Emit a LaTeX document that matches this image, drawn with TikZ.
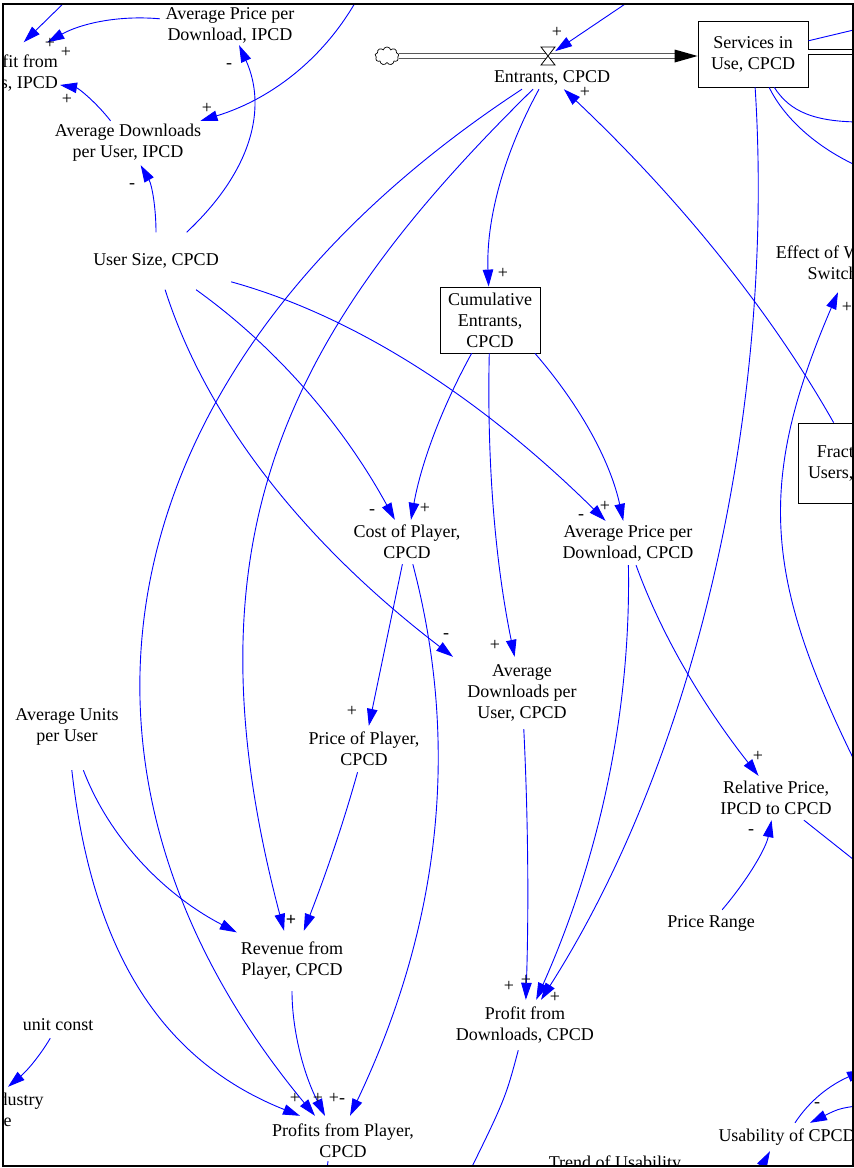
\documentclass[tikz,border=0pt]{standalone}
\usepackage{fontspec}
\setmainfont{Liberation Serif}
\usetikzlibrary{arrows.meta,shapes.symbols,calc}
\newcommand{\vfnt}{\fontsize{18}{21}\selectfont}
\newcommand{\pfnt}{\fontsize{18}{18}\selectfont}
\begin{document}
\begin{tikzpicture}[x=1pt,y=-1pt,
 var/.style={align=center,font=\vfnt,inner sep=2pt},
 stock/.style={var,draw=black,line width=0.8pt},
 link/.style={draw=blue,line width=0.9pt,-{Triangle[length=17pt,width=10.5pt]}},
 plain/.style={draw=blue,line width=0.9pt},
 pol/.style={font=\pfnt,inner sep=0pt},
 pipe/.style={draw=black,double=white,double distance=3.8pt,line width=0.8pt}]
\useasboundingbox (0,0) rectangle (854,1168);
\begin{scope}
\clip (3,4) rectangle (853,1166);
% variables
\node[var, anchor=east, align=right, minimum height=62pt] (pfdi) at (60,73.5) {Profit from\\Downloads, IPCD};
\node[var, minimum width=140pt, minimum height=40pt] (apdi) at (230,25) {Average Price per\\Download, IPCD};
\node[var, minimum width=150pt, minimum height=44pt] (adui) at (128,143) {Average Downloads\\per User, IPCD};
\node[var, minimum width=150pt, minimum height=57pt] (usize) at (156,261) {User Size, CPCD};
\node[cloud, cloud puffs=9, draw, line width=0.7pt, minimum width=24pt, minimum height=18pt, inner sep=0pt] (srccl) at (387,56) {};
\node[minimum width=14pt, minimum height=18pt, inner sep=0pt] (valve) at (548,56) {};
\node[var, minimum width=124pt, minimum height=22pt] (entr) at (552,78) {Entrants, CPCD};
\node[stock, minimum width=110pt, minimum height=66pt] (siu) at (753,54) {Services in\\Use, CPCD};
\node[stock, minimum width=100pt, minimum height=66pt] (cum) at (490,320) {Cumulative\\Entrants,\\CPCD};
\node[var, minimum width=116pt, minimum height=44pt] (cost) at (407,542) {Cost of Player,\\CPCD};
\node[var, minimum width=140pt, minimum height=44pt] (apdc) at (628,543) {Average Price per\\Download, CPCD};
\node[var, minimum width=140pt, minimum height=72pt] (aduc) at (522,693) {Average\\Downloads per\\User, CPCD};
\node[var, minimum width=120pt, minimum height=46pt] (pop) at (364,749) {Price of Player,\\CPCD};
\node[var, minimum width=104pt, minimum height=86pt] (aupu) at (67,727) {Average Units\\per User};
\node[var, minimum width=118pt, minimum height=44pt] (rel) at (776,798) {Relative Price,\\IPCD to CPCD};
\node[var, minimum width=90pt, minimum height=26pt] (prange) at (711,923) {Price Range};
\node[var, minimum width=110pt, minimum height=60pt] (rev) at (292,961) {Revenue from\\Player, CPCD};
\node[var, minimum width=150pt, minimum height=50pt] (pfdc) at (525,1025) {Profit from\\Downloads, CPCD};
\node[var, minimum width=80pt, minimum height=26pt] (unitc) at (58,1025) {unit const};
\node[var, minimum height=46pt] (ind) at (-7,1110) {Total Industry\\Price};
\node[var, minimum width=155pt, minimum height=50pt] (pfp) at (343,1141) {Profits from Player,\\CPCD};
\node[var, minimum width=140pt, minimum height=28pt] (usab) at (787,1137) {Usability of CPCD};
\node[var, anchor=base] (trend) at (615,1168) {Trend of Usability};
\node[var, minimum width=130pt, minimum height=54pt] (effect) at (844,265) {Effect of WOM on\\Switching};
\node[stock, minimum width=117pt, minimum height=80pt] (fract) at (856.5,463) {Fraction of\\Users, CPCD};
% free ends
\coordinate (tl) at (71,-4);
\coordinate (tm) at (360,-6);
\coordinate (tv) at (637,-4);
\coordinate (rs1) at (862,28);
\coordinate (rp) at (870,52);
\coordinate (rc1) at (862,122);
\coordinate (rc2) at (862,168);
\coordinate (reff) at (866,784);
\coordinate (rrel) at (873,875);
\coordinate (bpfd) at (458,1195);
\coordinate (bpfp) at (325,1185);
\coordinate (busab) at (753,1182);
\coordinate (rusab) at (872,1104);
\coordinate (rusab2) at (864,1070);
% flow pipe
\draw[pipe, shorten >=22pt] (srccl.east) -- (siu.west |- srccl);
\fill[black] (siu.west |- srccl) -- ++(-23,-6.5) -- ++(0,13) -- cycle;
\draw[pipe] (siu.east |- rp) -- (rp);
\draw[fill=white, line width=0.8pt] ($(valve)+(-7,-9)$) -- ($(valve)+(7,-9)$) -- ($(valve)+(-7,9)$) -- ($(valve)+(7,9)$) -- cycle;
% connectors
\draw[link] (usize) .. controls (156,208) and (152,185) .. (adui);
\draw[link] (usize) .. controls (253,170) and (267,107) .. (apdi);
\draw[link] (adui) .. controls (95,101) and (78,88) .. (pfdi);
\draw[link] (apdi) .. controls (117,15) and (80,24) .. (pfdi);
\draw[link] (tl) -- (pfdi);
\draw[link] (tm) .. controls (328,54) and (275,98) .. (adui);
\draw[link] (tv) -- (valve);
\draw[link] (fract) .. controls (771,312) and (681,200) .. (entr);
\draw[link] ([xshift=-13pt]entr.south) .. controls (503,155) and (486,221) .. (cum);
\draw[link] ([xshift=-19pt]entr.south) .. controls (285,333) and (181,540) .. (rev);
\draw[link] ([xshift=-30pt]entr.south) .. controls (104,363) and (25,766) .. ([xshift=-28pt]pfp.north);
\draw[link] (usize) .. controls (276,347) and (343,425) .. (cost);
\draw[link] (usize) .. controls (351,315) and (477,394) .. (apdc);
\draw[link] (usize) .. controls (206,418) and (303,542) .. ([xshift=-69pt]aduc.north);
\draw[link] (cum) .. controls (441,409) and (421,464) .. (cost);
\draw[link] (cum) .. controls (487,456) and (494,556) .. (aduc);
\draw[link] ([xshift=45pt]cum.south) .. controls (583,409) and (611,464) .. (apdc);
\draw[link] (cost) -- (pop);
\draw[link] (cost) .. controls (463,755) and (436,935) .. ([xshift=7pt]pfp.north);
\draw[link] (pop) .. controls (344,821) and (326,874) .. (rev);
\draw[link] (aupu) .. controls (108,835) and (161,893) .. (rev);
\draw[link] (aupu) .. controls (92,950) and (160,1060) .. ([xshift=-43pt]pfp.north);
\draw[link] (rev) .. controls (292,1029) and (303,1073) .. ([xshift=-18pt]pfp.north);
\draw[link] (aduc) .. controls (528,815) and (529,907) .. (pfdc);
\draw[link] (apdc) .. controls (631,708) and (601,854) .. (pfdc);
\draw[link] (apdc) .. controls (661,634) and (702,704) .. (rel);
\draw[link] (siu) .. controls (775,400) and (700,750) .. (pfdc);
\draw[plain] (siu) -- (rs1);
\draw[plain] (siu) .. controls (790,112) and (815,122) .. (rc1);
\draw[plain] (siu) .. controls (785,120) and (820,150) .. (rc2);
\draw[link] (reff) .. controls (767,588) and (752,492) .. ([xshift=-6pt]effect.south);
\draw[link] (prange) .. controls (749,878) and (766,848) .. (rel);
\draw[plain] (rel) -- (rrel);
\draw[link] (unitc) .. controls (41,1054) and (28,1070) .. ([xshift=15pt]ind.north);
\draw[plain] (pfdc) .. controls (505,1100) .. (bpfd);
\draw[plain] ([xshift=-15pt,yshift=5pt]pfp.south) -- (bpfp);
\draw[link] (busab) -- ([xshift=-17pt]usab.south);
\draw[link] (rusab) .. controls (840,1108) .. ([xshift=23pt]usab.north);
\draw[link] ([xshift=8pt]usab.north) .. controls (810,1100) and (830,1085) .. (rusab2);
% polarities
\node[pol] (q1) at (50,43) {+};
\node[pol] (q2) at (66,52) {+};
\node[pol] (q3) at (67,99) {+};
\node[pol] (q4) at (229,66) {-};
\node[pol] (q5) at (207,108) {+};
\node[pol] (q6) at (132,186) {-};
\node[pol] (q7) at (557,32) {+};
\node[pol] (q8) at (585,92) {+};
\node[pol] (q9) at (503,273) {+};
\node[pol] (q10) at (372,512) {-};
\node[pol] (q11) at (425,508) {+};
\node[pol] (q12) at (581,517) {-};
\node[pol] (q13) at (605,506) {+};
\node[pol] (q14) at (446,636) {-};
\node[pol] (q15) at (495,645) {+};
\node[pol] (q16) at (847,307) {+};
\node[pol] (q17) at (352,711) {+};
\node[pol] (q18) at (758,756) {+};
\node[pol] (q19) at (751,832) {-};
\node[pol] (q20) at (291,920) {\textbf{+}};
\node[pol] (q21) at (509,986) {+};
\node[pol] (q22) at (526,980) {+};
\node[pol] (q23) at (555,997) {+};
\node[pol] (q24) at (295,1098) {+};
\node[pol] (q25) at (318,1098) {+};
\node[pol] (q26) at (337,1098) {+-};
\node[pol] (q27) at (817,1105) {-};
\end{scope}
\draw[line width=1.3pt] (3,4) rectangle (853,1166);
\end{tikzpicture}
\end{document}
